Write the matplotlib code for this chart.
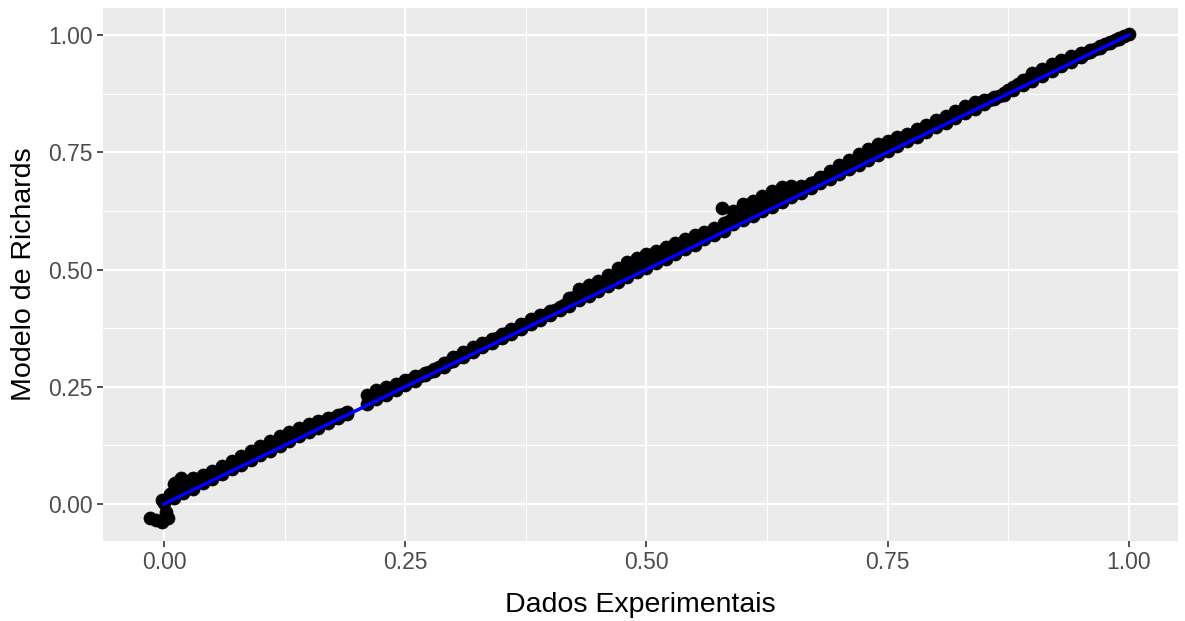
import matplotlib
matplotlib.use("Agg")
import matplotlib.pyplot as plt
from matplotlib.ticker import MultipleLocator

plt.rcParams["font.family"] = ["Liberation Sans", "DejaVu Sans"]

# Pontos perto da origem
origem_x = [-0.015, -0.008, -0.002, 0.004, 0.002, -0.002, 0.000, 0.006, 0.011, 0.018]
origem_y = [-0.030, -0.034, -0.038, -0.030, -0.018, 0.009, 0.002, 0.022, 0.045, 0.055]

# Faixa superior dos pontos (modelo x experimental)
sup_x = [0.01, 0.02, 0.03, 0.04, 0.05, 0.06, 0.07, 0.08, 0.09, 0.10,
         0.11, 0.12, 0.13, 0.14, 0.15, 0.16, 0.17, 0.18, 0.19,
         0.21, 0.22, 0.23, 0.24, 0.25, 0.26, 0.27, 0.28, 0.29, 0.30,
         0.31, 0.32, 0.33, 0.34, 0.35, 0.36, 0.37, 0.38, 0.39, 0.40,
         0.41, 0.42, 0.43, 0.44, 0.45, 0.46, 0.47, 0.48, 0.49, 0.50,
         0.51, 0.52, 0.53, 0.54, 0.55, 0.56, 0.57, 0.58, 0.59, 0.60,
         0.61, 0.62, 0.63, 0.64, 0.65, 0.66, 0.67, 0.68, 0.69, 0.70,
         0.71, 0.72, 0.73, 0.74, 0.75, 0.76, 0.77, 0.78, 0.79, 0.80,
         0.81, 0.82, 0.83, 0.84, 0.85, 0.86, 0.87, 0.88, 0.89, 0.90,
         0.91, 0.92, 0.93, 0.94, 0.95, 0.96, 0.97, 0.98, 0.99, 1.00]
sup_y = [0.043, 0.050, 0.055, 0.061, 0.070, 0.081, 0.092, 0.102, 0.113, 0.124,
         0.134, 0.145, 0.154, 0.163, 0.171, 0.177, 0.183, 0.189, 0.196,
         0.233, 0.243, 0.249, 0.256, 0.264, 0.273, 0.280, 0.288, 0.300, 0.313,
         0.325, 0.335, 0.343, 0.352, 0.363, 0.373, 0.383, 0.394, 0.403, 0.412,
         0.421, 0.439, 0.459, 0.468, 0.476, 0.488, 0.503, 0.515, 0.524, 0.533,
         0.539, 0.547, 0.556, 0.565, 0.573, 0.581, 0.589, 0.599, 0.625, 0.639,
         0.647, 0.656, 0.667, 0.676, 0.679, 0.679, 0.685, 0.697, 0.710, 0.722,
         0.734, 0.746, 0.757, 0.767, 0.775, 0.782, 0.790, 0.800, 0.809, 0.818,
         0.827, 0.837, 0.848, 0.857, 0.862, 0.868, 0.877, 0.890, 0.905, 0.918,
         0.928, 0.938, 0.947, 0.955, 0.962, 0.969, 0.977, 0.986, 0.994, 1.003]

# Pontos no meio da faixa
meio_x = [0.015, 0.025, 0.035, 0.045, 0.055, 0.065, 0.075, 0.085, 0.095, 0.105,
          0.115, 0.125, 0.135, 0.145, 0.155, 0.165, 0.175, 0.185,
          0.215, 0.225, 0.235, 0.245, 0.255, 0.265, 0.275, 0.285, 0.295, 0.305,
          0.315, 0.325, 0.335, 0.345, 0.355, 0.365, 0.375, 0.385, 0.395, 0.405,
          0.415, 0.425, 0.435, 0.445, 0.455, 0.465, 0.475, 0.485, 0.495, 0.505,
          0.515, 0.525, 0.535, 0.545, 0.555, 0.565, 0.575, 0.585, 0.595, 0.605,
          0.615, 0.625, 0.635, 0.645, 0.655, 0.665, 0.675, 0.685, 0.695, 0.705,
          0.715, 0.725, 0.735, 0.745, 0.755, 0.765, 0.775, 0.785, 0.795, 0.805,
          0.815, 0.825, 0.835, 0.845, 0.855, 0.865, 0.875, 0.885, 0.895, 0.905,
          0.915, 0.925, 0.935, 0.945, 0.955, 0.965, 0.975, 0.985, 0.995]
meio_y = [0.032, 0.040, 0.048, 0.057, 0.067, 0.078, 0.088, 0.098, 0.109, 0.119,
          0.129, 0.140, 0.149, 0.158, 0.167, 0.175, 0.183, 0.191,
          0.229, 0.238, 0.246, 0.255, 0.264, 0.273, 0.282, 0.292, 0.303, 0.314,
          0.325, 0.334, 0.343, 0.353, 0.364, 0.374, 0.384, 0.394, 0.403, 0.413,
          0.425, 0.441, 0.451, 0.460, 0.471, 0.483, 0.494, 0.504, 0.513, 0.522,
          0.531, 0.540, 0.550, 0.559, 0.568, 0.577, 0.587, 0.603, 0.616, 0.626,
          0.635, 0.645, 0.655, 0.662, 0.667, 0.675, 0.686, 0.697, 0.708, 0.719,
          0.730, 0.741, 0.751, 0.760, 0.768, 0.777, 0.787, 0.797, 0.806, 0.816,
          0.826, 0.836, 0.846, 0.853, 0.861, 0.871, 0.882, 0.895, 0.906, 0.916,
          0.926, 0.936, 0.945, 0.953, 0.962, 0.971, 0.980, 0.989, 0.998]

# Faixa inferior, quase sobre a reta
inf_x = [0.01, 0.02, 0.03, 0.04, 0.05, 0.06, 0.07, 0.08, 0.09, 0.10,
         0.11, 0.12, 0.13, 0.14, 0.15, 0.16, 0.17, 0.18, 0.19,
         0.21, 0.22, 0.23, 0.24, 0.25, 0.26, 0.27, 0.28, 0.29, 0.30,
         0.31, 0.32, 0.33, 0.34, 0.35, 0.36, 0.37, 0.38, 0.39, 0.40,
         0.41, 0.42, 0.43, 0.44, 0.45, 0.46, 0.47, 0.48, 0.49, 0.50,
         0.51, 0.52, 0.53, 0.54, 0.55, 0.56, 0.57, 0.58, 0.59, 0.60,
         0.61, 0.62, 0.63, 0.64, 0.65, 0.66, 0.67, 0.68, 0.69, 0.70,
         0.71, 0.72, 0.73, 0.74, 0.75, 0.76, 0.77, 0.78, 0.79, 0.80,
         0.81, 0.82, 0.83, 0.84, 0.85, 0.86, 0.87, 0.88, 0.89, 0.90,
         0.91, 0.92, 0.93, 0.94, 0.95, 0.96, 0.97, 0.98, 0.99]
inf_y = [0.013, 0.024, 0.033, 0.044, 0.054, 0.063, 0.074, 0.084, 0.093, 0.104,
         0.114, 0.123, 0.134, 0.144, 0.153, 0.163, 0.172, 0.183, 0.192,
         0.214, 0.224, 0.233, 0.244, 0.253, 0.263, 0.274, 0.283, 0.293, 0.304,
         0.313, 0.324, 0.334, 0.343, 0.354, 0.363, 0.373, 0.384, 0.393, 0.403,
         0.414, 0.423, 0.434, 0.443, 0.454, 0.464, 0.473, 0.484, 0.494, 0.503,
         0.514, 0.523, 0.534, 0.544, 0.553, 0.564, 0.573, 0.583, 0.597, 0.606,
         0.614, 0.624, 0.633, 0.644, 0.654, 0.663, 0.674, 0.684, 0.693, 0.704,
         0.714, 0.723, 0.734, 0.744, 0.753, 0.764, 0.773, 0.783, 0.794, 0.803,
         0.813, 0.824, 0.833, 0.843, 0.853, 0.863, 0.873, 0.883, 0.893, 0.903,
         0.913, 0.923, 0.933, 0.943, 0.953, 0.963, 0.972, 0.982, 0.992]

# Ponto isolado acima da faixa
isolado_x = [0.578]
isolado_y = [0.631]

# Reta de referencia (azul)
reta_x = [0.0, 1.0]
reta_y = [0.0, 1.0]

ticks = [0.00, 0.25, 0.50, 0.75, 1.00]
tick_labels = ["0.00", "0.25", "0.50", "0.75", "1.00"]

fig = plt.figure(figsize=(11.85, 6.21), dpi=100)
ax = fig.add_axes([103 / 1185, 1 - 541 / 621, 1075 / 1185, 533 / 621])
ax.set_facecolor("#EBEBEB")

pts = dict(s=88, c="black", edgecolors="black", linewidths=0.5, zorder=2)
ax.scatter(origem_x, origem_y, **pts)
ax.scatter(inf_x, inf_y, **pts)
ax.scatter(meio_x, meio_y, **pts)
ax.scatter(sup_x, sup_y, **pts)
ax.scatter(isolado_x, isolado_y, **pts)
ax.plot(reta_x, reta_y, color="#0000FF", lw=2.5, zorder=3)

ax.set_xlim(-0.0632, 1.0508)
ax.set_ylim(-0.0789, 1.0576)
ax.set_xticks(ticks)
ax.set_xticklabels(tick_labels)
ax.set_yticks(ticks)
ax.set_yticklabels(tick_labels)
ax.xaxis.set_minor_locator(MultipleLocator(0.125))
ax.yaxis.set_minor_locator(MultipleLocator(0.125))

ax.grid(which="major", color="white", lw=1.6, zorder=0)
ax.grid(which="minor", color="white", lw=0.8, zorder=0)
ax.set_axisbelow(True)
for s in ax.spines.values():
    s.set_visible(False)

ax.tick_params(which="major", length=4.5, width=1.2, color="#333333",
               labelcolor="#4D4D4D", labelsize=16.5, pad=3)
ax.tick_params(which="minor", length=0)

ax.set_xlabel("Dados Experimentais", fontsize=20.5, labelpad=13)
ax.set_ylabel("Modelo de Richards", fontsize=20.5, labelpad=8)

fig.savefig("out.png", dpi=100)
